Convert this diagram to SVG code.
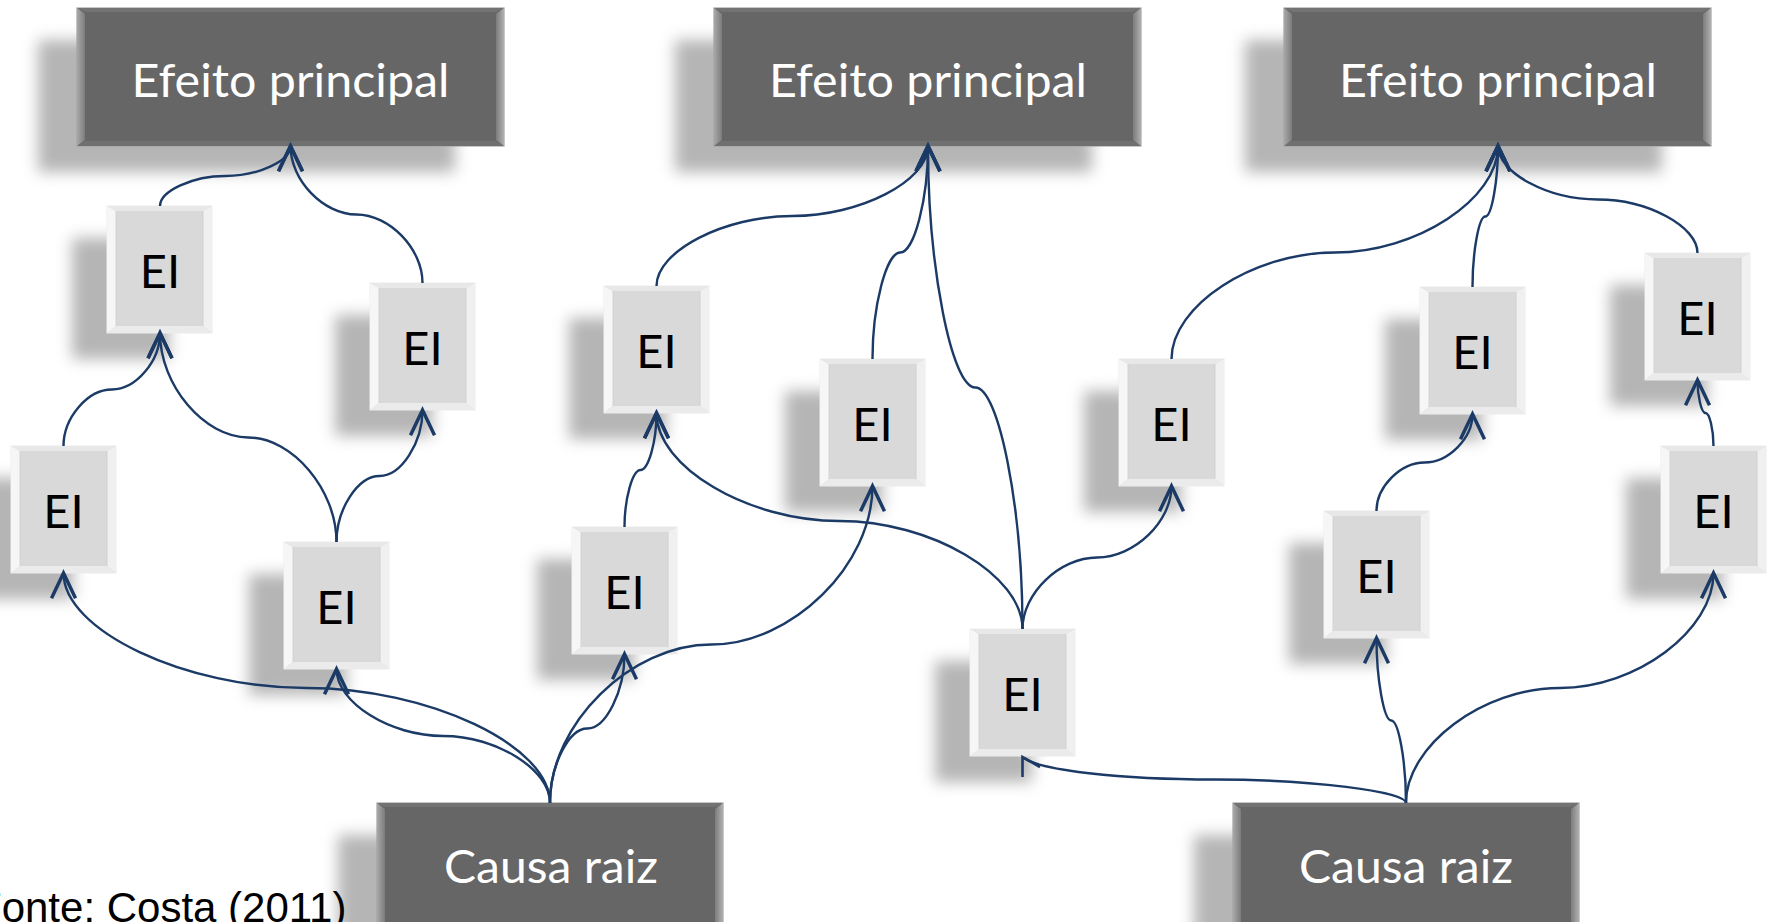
<svg xmlns="http://www.w3.org/2000/svg" xmlns:xlink="http://www.w3.org/1999/xlink" width="1769" height="922" viewBox="0 0 1769 922">
<defs>
<style>
.sh{fill:#000;fill-opacity:0.29;filter:url(#blur)}
.lbl{font-family:Lato,"Open Sans","Noto Sans",sans-serif;font-size:47px;text-anchor:middle}
.w{fill:#ffffff}
.k{fill:#000000}
.cn path{fill:none;stroke:#1b3a66;stroke-width:2.4;marker-end:url(#arr)}
.foot{font-family:"Liberation Sans",Arial,sans-serif;font-size:42px;fill:#000}
</style>
<filter id="blur" x="-30%" y="-30%" width="160%" height="160%"><feGaussianBlur stdDeviation="7.5"/></filter>
<linearGradient id="gl" x1="0" y1="0" x2="1" y2="0"><stop offset="0" stop-color="#a8a8a8"/><stop offset="1" stop-color="#7c7c7c"/></linearGradient>
<linearGradient id="gr" x1="0" y1="0" x2="1" y2="0"><stop offset="0" stop-color="#7c7c7c"/><stop offset="1" stop-color="#b0b0b0"/></linearGradient>
<marker id="arr" markerUnits="userSpaceOnUse" markerWidth="40" markerHeight="40" viewBox="-25 -15 30 30" refX="0" refY="0" orient="auto" overflow="visible">
<path d="M-19,-9 L0,0 L-19,9" fill="none" stroke="#1b3a66" stroke-width="2.6"/>
</marker>
<symbol id="ei" viewBox="0 0 105 127" width="105" height="127" overflow="visible">
<rect x="0" y="0" width="105" height="127" fill="#d9d9d9" stroke="#ececec" stroke-width="1"/>
<polygon points="0,0 9,5 9,120 0,127" fill="#f6f6f6"/>
<polygon points="105,0 96,5 96,120 105,127" fill="#f0f0f0"/>
<polygon points="0,0 105,0 96,5 9,5" fill="#e8e8e8"/>
<polygon points="0,127 105,127 96,120 9,120" fill="#ebebeb"/>
<line x1="9" y1="5" x2="9" y2="120" stroke="#cfcfcf" stroke-width="0.8"/>
<line x1="96" y1="5" x2="96" y2="120" stroke="#cccccc" stroke-width="0.8"/>
</symbol>
<symbol id="top" viewBox="0 0 427 138" width="427" height="138" overflow="visible">
<rect x="0" y="0" width="427" height="138" fill="#666666" stroke="#a3a3a3" stroke-width="1.2"/>
<polygon points="0,0 8,6 8,132 0,138" fill="url(#gl)"/>
<polygon points="427,0 419,6 419,132 427,138" fill="url(#gr)"/>
<polygon points="0,0 427,0 419,4 8,4" fill="#737373"/>
<polygon points="0,138 427,138 419,133 8,133" fill="#707070"/>
</symbol>
<symbol id="bot" viewBox="0 0 346 138" width="346" height="138" overflow="visible">
<rect x="0" y="0" width="346" height="138" fill="#666666" stroke="#a3a3a3" stroke-width="1.2"/>
<polygon points="0,0 8,6 8,132 0,138" fill="url(#gl)"/>
<polygon points="346,0 338,6 338,132 346,138" fill="url(#gr)"/>
<polygon points="0,0 346,0 338,4 8,4" fill="#737373"/>
<polygon points="0,138 346,138 338,133 8,133" fill="#707070"/>
</symbol>
</defs>
<rect x="0" y="0" width="1769" height="922" fill="#ffffff"/>

<g id="shadows">
<rect class="sh" x="38" y="40" width="417" height="132"/>
<rect class="sh" x="675" y="40" width="417" height="132"/>
<rect class="sh" x="1245" y="40" width="417" height="132"/>
<rect class="sh" x="338" y="835" width="338" height="134"/>
<rect class="sh" x="1194" y="835" width="338" height="134"/>
<rect class="sh" x="72" y="238" width="97" height="121"/>
<rect class="sh" x="335" y="315" width="97" height="121"/>
<rect class="sh" x="-24" y="478" width="97" height="121"/>
<rect class="sh" x="249" y="574" width="97" height="121"/>
<rect class="sh" x="569" y="318" width="97" height="121"/>
<rect class="sh" x="537" y="559" width="97" height="121"/>
<rect class="sh" x="785" y="391" width="97" height="121"/>
<rect class="sh" x="935" y="661" width="97" height="121"/>
<rect class="sh" x="1084" y="391" width="97" height="121"/>
<rect class="sh" x="1289" y="543" width="97" height="121"/>
<rect class="sh" x="1385" y="319" width="97" height="121"/>
<rect class="sh" x="1610" y="285" width="97" height="121"/>
<rect class="sh" x="1626" y="478" width="97" height="121"/>
</g>

<g id="T1"><use xlink:href="#top" x="77" y="8"/><text class="lbl w" x="290.5" y="97" textLength="318" lengthAdjust="spacingAndGlyphs">Efeito principal</text></g>
<g id="T2"><use xlink:href="#top" x="714" y="8"/><text class="lbl w" x="928" y="97" textLength="318" lengthAdjust="spacingAndGlyphs">Efeito principal</text></g>
<g id="T3"><use xlink:href="#top" x="1284" y="8"/><text class="lbl w" x="1498" y="97" textLength="318" lengthAdjust="spacingAndGlyphs">Efeito principal</text></g>
<g id="B1"><use xlink:href="#bot" x="377" y="803"/><text class="lbl w" x="551" y="883" textLength="214" lengthAdjust="spacingAndGlyphs">Causa raiz</text></g>
<g id="B2"><use xlink:href="#bot" x="1233" y="803"/><text class="lbl w" x="1406" y="883" textLength="214" lengthAdjust="spacingAndGlyphs">Causa raiz</text></g>

<g id="E1"><use xlink:href="#ei" x="107" y="206"/><text class="lbl k" x="160" y="288">EI</text></g>
<g id="E2"><use xlink:href="#ei" x="370" y="283"/><text class="lbl k" x="422.5" y="365">EI</text></g>
<g id="E3"><use xlink:href="#ei" x="11" y="446"/><text class="lbl k" x="63.5" y="528">EI</text></g>
<g id="E4"><use xlink:href="#ei" x="284" y="542"/><text class="lbl k" x="336.5" y="624">EI</text></g>
<g id="E5"><use xlink:href="#ei" x="604" y="286"/><text class="lbl k" x="656.5" y="368">EI</text></g>
<g id="E6"><use xlink:href="#ei" x="572" y="527"/><text class="lbl k" x="624.5" y="609">EI</text></g>
<g id="E7"><use xlink:href="#ei" x="820" y="359"/><text class="lbl k" x="872.5" y="441">EI</text></g>
<g id="E8"><use xlink:href="#ei" x="970" y="629"/><text class="lbl k" x="1022.5" y="711">EI</text></g>
<g id="E9"><use xlink:href="#ei" x="1119" y="359"/><text class="lbl k" x="1171.5" y="441">EI</text></g>
<g id="E10"><use xlink:href="#ei" x="1324" y="511"/><text class="lbl k" x="1376.5" y="593">EI</text></g>
<g id="E11"><use xlink:href="#ei" x="1420" y="287"/><text class="lbl k" x="1472.5" y="369">EI</text></g>
<g id="E12"><use xlink:href="#ei" x="1645" y="253"/><text class="lbl k" x="1697.5" y="335">EI</text></g>
<g id="E13"><use xlink:href="#ei" x="1661" y="446"/><text class="lbl k" x="1713.5" y="528">EI</text></g>

<g id="connectors" class="cn">
<path d="M160,206 C160,191 192.6,176 225.3,176 C257.9,176 290.5,161 290.5,146"/>
<path d="M422.5,283 C422.5,248.75 389.5,214.5 356.5,214.5 C323.5,214.5 290.5,180.25 290.5,146"/>
<path d="M63.5,446 C63.5,417.75 87.6,389.5 111.8,389.5 C135.9,389.5 160,361.25 160,333"/>
<path d="M336.5,542 C336.5,489.75 292.4,437.5 248.3,437.5 C204.1,437.5 160,385.25 160,333"/>
<path d="M336.5,542 C336.5,509 358,476 379.5,476 C401,476 422.5,443 422.5,410"/>
<path d="M550,803 C550,745.5 428.4,688 306.8,688 C185.1,688 63.5,630.5 63.5,573"/>
<path d="M550,803 C550,769.5 496.6,736 443.3,736 C389.9,736 336.5,702.5 336.5,669"/>
<path d="M550,803 C550,765.75 568.6,728.5 587.3,728.5 C605.9,728.5 624.5,691.25 624.5,654"/>
<path d="M550,803 C550,723.75 630.6,644.5 711.3,644.5 C791.9,644.5 872.5,565.25 872.5,486"/>
<path d="M656.5,286 C656.5,251 724.4,216 792.3,216 C860.1,216 928,181 928,146"/>
<path d="M872.5,359 C872.5,305.75 886.4,252.5 900.3,252.5 C914.1,252.5 928,199.25 928,146"/>
<path d="M1022.5,629 C1022.5,508.25 998.9,387.5 975.3,387.5 C951.6,387.5 928,266.75 928,146"/>
<path d="M624.5,527 C624.5,498.5 632.5,470 640.5,470 C648.5,470 656.5,441.5 656.5,413"/>
<path d="M1022.5,629 C1022.5,575 931,521 839.5,521 C748,521 656.5,467 656.5,413"/>
<path d="M1022.5,629 C1022.5,593.25 1059.8,557.5 1097,557.5 C1134.3,557.5 1171.5,521.75 1171.5,486"/>
<path d="M1406,803 C1406,791.25 1310.1,779.5 1214.3,779.5 C1118.4,779.5 1040,770 1024,758" style="marker-end:none"/>
<polyline points="1022.5,777 1022.5,757 1040,767" fill="none" stroke="#1b3a66" stroke-width="2.6"/>
<path d="M1171.5,359 C1171.5,305.75 1253.1,252.5 1334.8,252.5 C1416.4,252.5 1498,199.25 1498,146"/>
<path d="M1472.5,287 C1472.5,251.75 1478.9,216.5 1485.3,216.5 C1491.6,216.5 1498,181.25 1498,146"/>
<path d="M1697.5,253 C1697.5,226.25 1647.6,199.5 1597.8,199.5 C1547.9,199.5 1498,172.75 1498,146"/>
<path d="M1376.5,511 C1376.5,486.75 1400.5,462.5 1424.5,462.5 C1448.5,462.5 1472.5,438.25 1472.5,414"/>
<path d="M1713.5,446 C1713.5,429.5 1709.5,413 1705.5,413 C1701.5,413 1697.5,396.5 1697.5,380"/>
<path d="M1406,803 C1406,761.75 1398.6,720.5 1391.3,720.5 C1383.9,720.5 1376.5,679.25 1376.5,638"/>
<path d="M1406,803 C1406,745.5 1482.9,688 1559.8,688 C1636.6,688 1713.5,630.5 1713.5,573"/>
</g>

<text class="foot" x="-24" y="922">Fonte: Costa (2011)</text>
</svg>
